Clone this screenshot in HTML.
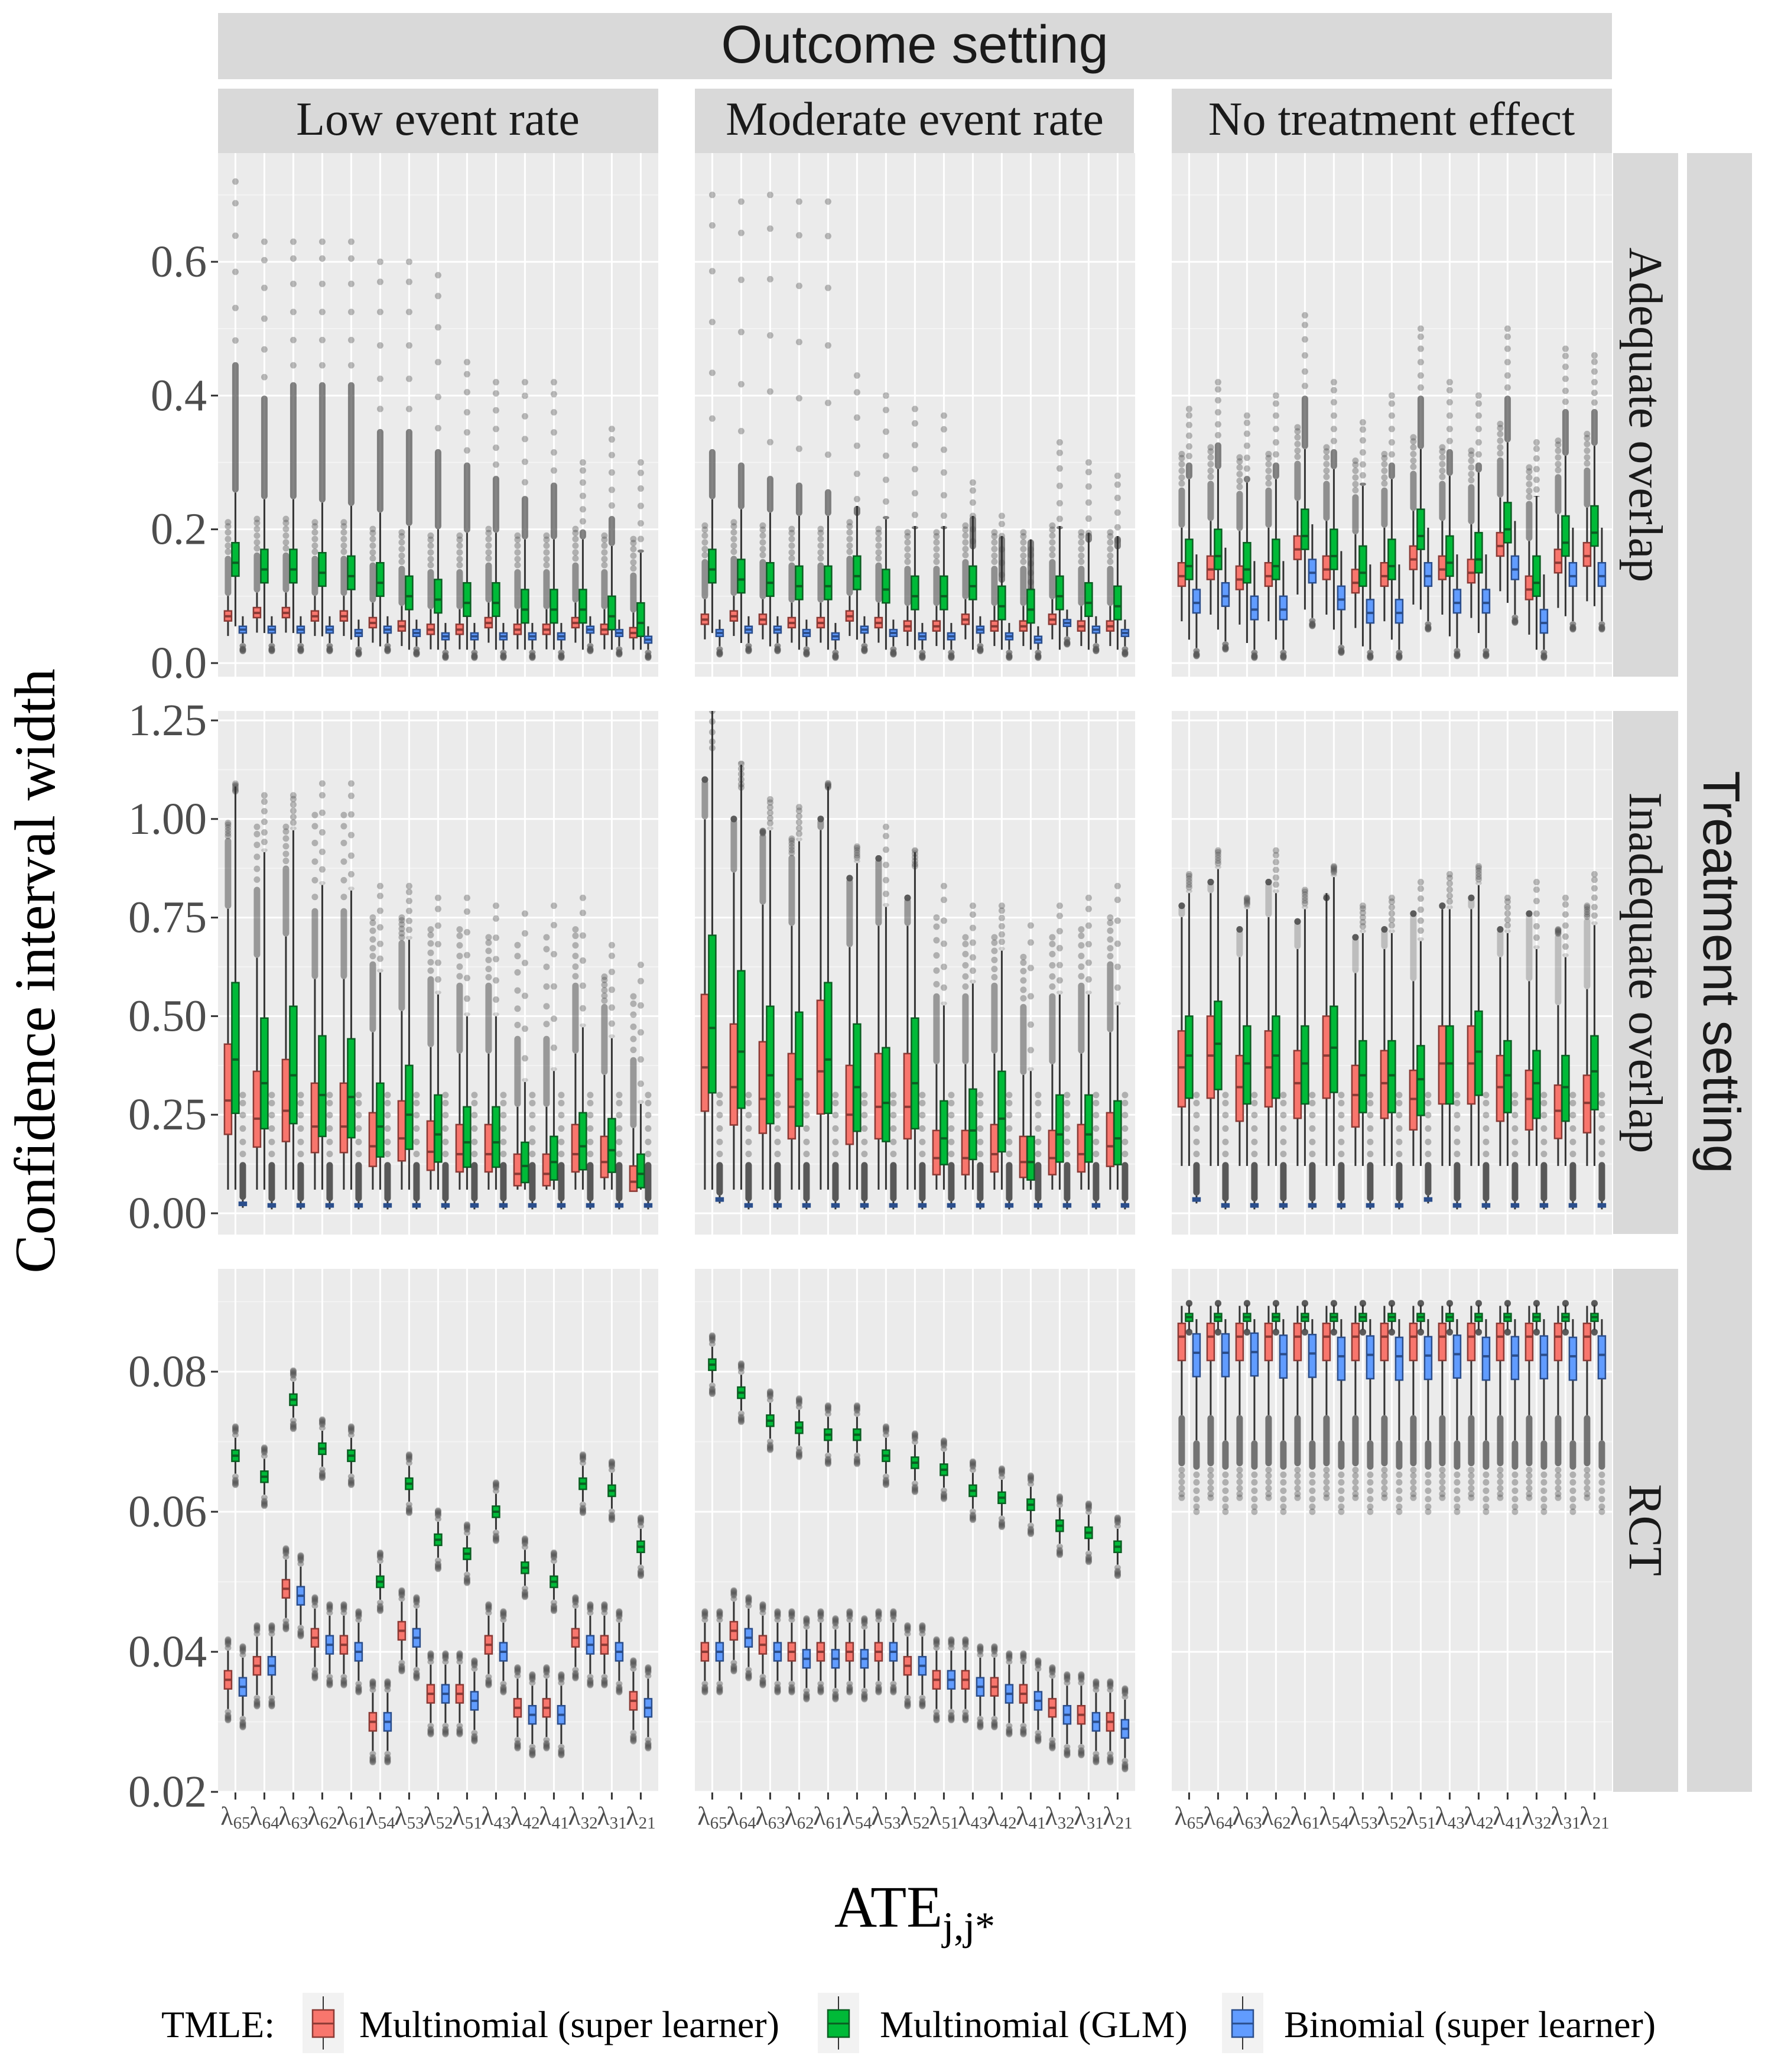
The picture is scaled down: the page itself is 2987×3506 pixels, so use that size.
<!DOCTYPE html>
<html><head><meta charset="utf-8">
<style>
html,body{margin:0;padding:0;background:#fff;}
svg{display:block;}
text{font-family:"Liberation Serif",serif;}
</style></head>
<body>
<svg id="chart" xmlns="http://www.w3.org/2000/svg" width="2987" height="3506" viewBox="0 0 2987 3506">
<rect width="2987" height="3506" fill="#fff"/>
<g id="panels"></g>
<g id="strips">
 <rect x="369" y="22" width="2359" height="112" fill="#D9D9D9"/>
 <text x="1548" y="106" font-size="90" text-anchor="middle" fill="#1A1A1A" style="font-family:'Liberation Sans',sans-serif">Outcome setting</text>
 <rect x="369" y="150" width="745" height="109" fill="#D9D9D9"/>
 <text x="741" y="228" font-size="80" text-anchor="middle" fill="#1A1A1A">Low event rate</text>
 <rect x="1176" y="150" width="743" height="109" fill="#D9D9D9"/>
 <text x="1548" y="228" font-size="80" text-anchor="middle" fill="#1A1A1A">Moderate event rate</text>
 <rect x="1983" y="150" width="745" height="109" fill="#D9D9D9"/>
 <text x="2355" y="228" font-size="80" text-anchor="middle" fill="#1A1A1A">No treatment effect</text>
 <rect x="2730" y="259" width="110" height="886" fill="#D9D9D9"/>
 <text transform="translate(2758,702) rotate(90)" font-size="80" text-anchor="middle" fill="#1A1A1A">Adequate overlap</text>
 <rect x="2730" y="1203" width="110" height="885" fill="#D9D9D9"/>
 <text transform="translate(2758,1646) rotate(90)" font-size="80" text-anchor="middle" fill="#1A1A1A">Inadequate overlap</text>
 <rect x="2730" y="2147" width="110" height="885" fill="#D9D9D9"/>
 <text transform="translate(2758,2589) rotate(90)" font-size="80" text-anchor="middle" fill="#1A1A1A">RCT</text>
 <rect x="2855" y="259" width="110" height="2773" fill="#D9D9D9"/>
 <text transform="translate(2883,1645) rotate(90)" font-size="88" text-anchor="middle" fill="#1A1A1A" style="font-family:'Liberation Sans',sans-serif">Treatment setting</text>
</g>
<text transform="translate(92,1643) rotate(-90)" font-size="98" text-anchor="middle" fill="#000">Confidence interval width</text>
<text x="1548" y="3260" font-size="100" text-anchor="middle" fill="#000">ATE<tspan font-size="68" dy="22">j,j*</tspan></text>
<g id="legend">
 <text x="273" y="3447" font-size="64" fill="#000">TMLE:</text>
</g>
</svg>
<script>
const cats = ['65','64','63','62','61','54','53','52','51','43','42','41','32','31','21'];
const seriesNames = ['Multinomial (super learner)','Multinomial (GLM)','Binomial (super learner)'];
// Row 1: Adequate overlap
const r1c1_red = [0.07,0.075,0.075,0.07,0.07,0.06,0.055,0.05,0.05,0.06,0.05,0.05,0.06,0.05,0.045];
const r1c1_green = [0.15,0.14,0.14,0.135,0.13,0.12,0.10,0.095,0.09,0.09,0.08,0.08,0.08,0.07,0.06];
const r1c1_blue = [0.05,0.05,0.05,0.05,0.045,0.05,0.045,0.04,0.04,0.04,0.04,0.04,0.05,0.045,0.035];
const r1c1_outDense = [0.45,0.40,0.42,0.42,0.42,0.35,0.35,0.32,0.30,0.28,0.25,0.27,0.20,0.22,0.17];
const r1c1_outMax = [0.72,0.63,0.63,0.63,0.63,0.60,0.60,0.58,0.45,0.42,0.42,0.42,0.30,0.35,0.30];
const r1c2_red = [0.065,0.07,0.065,0.06,0.06,0.07,0.06,0.055,0.055,0.065,0.055,0.055,0.065,0.055,0.055];
const r1c2_green = [0.14,0.125,0.12,0.115,0.115,0.13,0.11,0.10,0.10,0.115,0.085,0.08,0.10,0.09,0.085];
const r1c2_blue = [0.045,0.05,0.05,0.045,0.04,0.05,0.045,0.04,0.04,0.05,0.04,0.035,0.06,0.05,0.045];
const r1c2_outDense = [0.32,0.30,0.28,0.27,0.26,0.22,0.22,0.20,0.20,0.17,0.12,0.10,0.20,0.18,0.17];
const r1c2_outMax = [0.70,0.69,0.70,0.69,0.69,0.43,0.40,0.38,0.37,0.27,0.22,0.17,0.33,0.30,0.28];
const r1c3_red = [0.13,0.14,0.125,0.13,0.17,0.14,0.12,0.13,0.155,0.14,0.135,0.175,0.11,0.15,0.16];
const r1c3_green = [0.145,0.16,0.14,0.145,0.19,0.16,0.135,0.145,0.19,0.15,0.155,0.20,0.12,0.18,0.195];
const r1c3_blue = [0.09,0.10,0.08,0.08,0.135,0.095,0.075,0.075,0.13,0.09,0.09,0.14,0.06,0.13,0.13];
const r1c3_outDense = [0.30,0.33,0.28,0.30,0.40,0.32,0.27,0.30,0.40,0.32,0.30,0.40,0.25,0.38,0.38];
const r1c3_outMax = [0.38,0.42,0.37,0.40,0.52,0.42,0.36,0.40,0.50,0.42,0.40,0.50,0.33,0.47,0.46];
// Row 2: Inadequate overlap
const r2c1_red = [0.286,0.24,0.26,0.22,0.22,0.17,0.19,0.156,0.15,0.15,0.10,0.10,0.15,0.13,0.08];
const r2c1_green = [0.39,0.33,0.35,0.30,0.295,0.22,0.25,0.20,0.18,0.18,0.12,0.13,0.17,0.16,0.10];
const r2c1_blue = [0.024,0.02,0.02,0.02,0.02,0.02,0.02,0.02,0.02,0.02,0.02,0.02,0.02,0.02,0.02];
const r2c1_outMax = [0.99,0.98,0.98,1.01,1.01,0.75,0.75,0.72,0.72,0.70,0.68,0.70,0.72,0.60,0.55];
const r2c2_red = [0.37,0.32,0.29,0.27,0.36,0.25,0.27,0.27,0.14,0.14,0.15,0.13,0.14,0.15,0.17];
const r2c2_green = [0.47,0.41,0.35,0.34,0.39,0.32,0.28,0.33,0.19,0.21,0.24,0.13,0.20,0.20,0.19];
const r2c2_blue = [0.035,0.02,0.02,0.02,0.02,0.02,0.02,0.02,0.02,0.02,0.02,0.02,0.02,0.02,0.02];
const r2c2_outMax = [1.10,1.00,0.97,0.95,1.00,0.85,0.90,0.80,0.75,0.70,0.70,0.65,0.70,0.72,0.75];
const r2c3_red = [0.37,0.40,0.32,0.37,0.33,0.40,0.30,0.33,0.29,0.38,0.38,0.32,0.29,0.26,0.28];
const r2c3_green = [0.40,0.43,0.38,0.40,0.38,0.42,0.35,0.35,0.34,0.38,0.41,0.35,0.33,0.32,0.36];
const r2c3_blue = [0.035,0.02,0.02,0.02,0.02,0.02,0.02,0.02,0.035,0.02,0.02,0.02,0.02,0.02,0.02];
const r2c3_outMax = [0.78,0.84,0.72,0.84,0.74,0.80,0.70,0.72,0.76,0.78,0.80,0.72,0.76,0.72,0.78];
// Row 3: RCT
const r3c1_red = [0.036,0.038,0.049,0.042,0.041,0.030,0.043,0.034,0.034,0.041,0.032,0.032,0.042,0.041,0.033];
const r3c1_green = [0.068,0.065,0.076,0.069,0.068,0.050,0.064,0.056,0.054,0.060,0.052,0.050,0.064,0.063,0.055];
const r3c1_blue = [0.035,0.038,0.048,0.041,0.040,0.030,0.042,0.034,0.033,0.040,0.031,0.031,0.041,0.040,0.032];
const r3c2_red = [0.040,0.043,0.041,0.040,0.040,0.040,0.040,0.038,0.036,0.036,0.035,0.034,0.032,0.031,0.030];
const r3c2_green = [0.081,0.077,0.073,0.072,0.071,0.071,0.068,0.067,0.066,0.063,0.062,0.061,0.058,0.057,0.055];
const r3c2_blue = [0.040,0.042,0.040,0.039,0.039,0.039,0.040,0.038,0.036,0.035,0.034,0.033,0.031,0.030,0.029];
const r3c3_red = [0.085,0.085,0.085,0.085,0.085,0.085,0.085,0.085,0.085,0.085,0.085,0.085,0.085,0.085,0.085];
const r3c3_green = [0.0878,0.0878,0.0878,0.0878,0.0878,0.0878,0.0878,0.0878,0.0878,0.0878,0.0878,0.0878,0.0878,0.0878,0.0878];
const r3c3_blue = [0.0827,0.0827,0.0828,0.0825,0.0826,0.0822,0.0824,0.0822,0.0823,0.0825,0.0822,0.0823,0.0824,0.0822,0.0824];
const r1Ticks = [0.0,0.2,0.4,0.6];
const r1TickLabels = ['0.0','0.2','0.4','0.6'];
const r2Ticks = [0,0.25,0.5,0.75,1.0,1.25];
const r2TickLabels = ['0.00','0.25','0.50','0.75','1.00','1.25'];
const r3Ticks = [0.02,0.04,0.06,0.08];
const r3TickLabels = ['0.02','0.04','0.06','0.08'];

const NS='http://www.w3.org/2000/svg';
function mk(tag, attrs, parent){const e=document.createElementNS(NS,tag);for(const k in attrs)e.setAttribute(k,attrs[k]);parent.appendChild(e);return e;}
const colX0=[369,1176,1983], PW=745;
const rowTop=[259,1203,2147], PH=886;
const rowScale=[
  v=>1122 - v*1131.7,
  v=>2053 - v*667.2,
  v=>3032 - (v-0.02)*11850
];
const rowRange=[[-0.02,0.763],[-0.05,1.28],[0.02,0.0948]];
function xCat(col,i){return colX0[col] + 0.6*49 + i*49;}
const FILL=['#F8766D','#00BA38','#619CFF'];
const DARK=['#8B3A35','#0B5E22','#2B4E8C'];
const OFF=[-12.5,0,12.5], BW=12;
const panelsG=document.getElementById('panels');

function boxStats(row,col,s,m){
  let q1,q3,lo,hi;
  if(row===0){
    if(col<2){const d=[[0.007,0.008],[0.02,0.03],[0.005,0.005]][s];q1=m-d[0];q3=m+d[1];}
    else{const d=[[0.015,0.02],[0.02,0.04],[0.015,0.02]][s];q1=m-d[0];q3=m+d[1];}
    const iqr=q3-q1;lo=Math.max(q1-1.5*iqr,0.02);hi=q3+1.5*iqr;
  } else if(row===1){
    if(s===2){q1=m-0.004;q3=m+0.004;lo=m-0.01;hi=m+0.01;}
    else{
      const f=col<2?(s===0?[0.3,0.5]:[0.35,0.5]):[0.27,0.25];
      q1=m*(1-f[0]);q3=m*(1+f[1]);const iqr=q3-q1;lo=Math.max(q1-1.5*iqr,col<2?0.06:0.12);hi=q3+1.5*iqr;
    }
  } else {
    if(col<2){const d=[0.0013,0.0008,0.0013][s];q1=m-d;q3=m+d;lo=q1-2.2*d;hi=q3+2.2*d;}
    else{const d=[[0.0034,0.0019],[0.0006,0.0005],[0.0034,0.0027]][s];q1=m-d[0];q3=m+d[1];
      lo=[0.0738,0.086,0.0702][s];hi=[0.0894,0.0895,0.0875][s];}
  }
  return {q1,q3,lo,hi};
}
const dotFr=[0.12,0.3,0.5,0.7,0.88,1.0];
function outColumn(g,x,y,yD,yM,dens){
  const top=Math.min(y,yD), h=Math.abs(yD-y);
  const r=mk('rect',{x:x-5.5,y:top,width:11,height:Math.max(h,2),rx:5.5,fill:'#333',opacity:dens},g);
  
  
  dotFr.forEach(f=>{
    const c=mk('circle',{cx:x,cy:yD+(yM-yD)*f,r:5.5,fill:'#555',opacity:0.4},g);
    
    
  });
}
const ticksByRow=[[r1Ticks,r1TickLabels],[r2Ticks,r2TickLabels],[r3Ticks,r3TickLabels]];
const dataByPanel=[
  [[r1c1_red,r1c1_green,r1c1_blue],[r1c2_red,r1c2_green,r1c2_blue],[r1c3_red,r1c3_green,r1c3_blue]],
  [[r2c1_red,r2c1_green,r2c1_blue],[r2c2_red,r2c2_green,r2c2_blue],[r2c3_red,r2c3_green,r2c3_blue]],
  [[r3c1_red,r3c1_green,r3c1_blue],[r3c2_red,r3c2_green,r3c2_blue],[r3c3_red,r3c3_green,r3c3_blue]]
];
const r1Out=[[r1c1_outDense,r1c1_outMax],[r1c2_outDense,r1c2_outMax],[r1c3_outDense,r1c3_outMax]];
const r2Out=[r2c1_outMax,r2c2_outMax,r2c3_outMax];
const rowNames=['adequate-overlap','inadequate-overlap','rct'];
const colNames=['low-event-rate','moderate-event-rate','no-treatment-effect'];

for(let row=0;row<3;row++){
  const Y=rowScale[row], [tk,tl]=ticksByRow[row];
  for(let col=0;col<3;col++){
    const g=mk('g',{},panelsG);
    
    
    const clipId='c'+row+col;
    const cp=mk('clipPath',{id:clipId},g);mk('rect',{x:colX0[col],y:rowTop[row],width:PW,height:PH},cp);
    const bg=mk('rect',{x:colX0[col],y:rowTop[row],width:PW,height:PH,fill:'#EBEBEB'},g);
    
    
    for(let k=0;k<tk.length;k++){
      const step=tk[1]-tk[0];
      [tk[k]-step/2, tk[k]+step/2].forEach(v=>{
        if(v<rowRange[row][0]||v>rowRange[row][1])return;
        mk('line',{x1:colX0[col],x2:colX0[col]+PW,y1:Y(v),y2:Y(v),stroke:'#F5F5F5','stroke-width':1.6},g);
      });
    }
    tk.forEach(v=>{
      const l=mk('line',{x1:colX0[col],x2:colX0[col]+PW,y1:Y(v),y2:Y(v),stroke:'#fff','stroke-width':3},g);
      
      
    });
    cats.forEach((c,i)=>{
      const l=mk('line',{x1:xCat(col,i),x2:xCat(col,i),y1:rowTop[row],y2:rowTop[row]+PH,stroke:'#fff','stroke-width':3},g);
      
      
    });
    const mg=mk('g',{'clip-path':'url(#'+clipId+')'},g);
    const data=dataByPanel[row][col];
    cats.forEach((c,i)=>{
      for(let s=0;s<3;s++){
        const m=data[s][i], st=boxStats(row,col,s,m), x=xCat(col,i)+OFF[s];
        if(row===0){
          if(s===1) outColumn(mg,x,Y(st.hi),Y(r1Out[col][0][i]),Y(r1Out[col][1][i]),0.6);
          if(s===0) outColumn(mg,x,Y(st.hi),Y(st.hi+0.06),Y(st.hi+0.11),0.5);
          if(s===2) outColumn(mg,x,Y(st.lo),Y(st.lo-0.008),Y(st.lo-0.012),0.5);
        } else if(row===1){
          if(s===0) outColumn(mg,x,Y(st.hi),Y(Math.min(r2Out[col][i],st.hi+0.18)),Y(r2Out[col][i]),col<2?0.45:0.25);
          if(s===1) outColumn(mg,x,Y(st.hi),Y(st.hi+0.01),Y(r2Out[col][i]+0.08),0.2);
          if(s===2) outColumn(mg,x,Y(st.hi),Y(0.13),Y(0.3),0.8);
        } else {
          if(col<2){
            outColumn(mg,x,Y(st.hi),Y(st.hi+0.0008),Y(st.hi+0.0016),0.35);
            outColumn(mg,x,Y(st.lo),Y(st.lo-0.0008),Y(st.lo-0.0016),0.35);
          } else {
            if(s===0) outColumn(mg,x,Y(st.lo),Y(0.0665),Y(0.062),0.65);
            if(s===2) outColumn(mg,x,Y(st.lo),Y(0.066),Y(0.060),0.65);
            if(s===1){outColumn(mg,x,Y(st.hi),Y(st.hi+0.0002),Y(st.hi+0.0003),0.5);outColumn(mg,x,Y(st.lo),Y(st.lo-0.0003),Y(st.lo-0.0004),0.5);}
          }
        }
      }
    });
    cats.forEach((c,i)=>{
      for(let s=0;s<3;s++){
        const m=data[s][i], st=boxStats(row,col,s,m), x=xCat(col,i)+OFF[s];
        const bg2=mk('g',{},mg);
        
        
        mk('line',{x1:x,x2:x,y1:Y(st.hi),y2:Y(st.lo),stroke:'#333','stroke-width':3},bg2);
        const yt=Y(st.q3), yb=Y(st.q1);
        mk('rect',{x:x-BW/2,y:yt,width:BW,height:Math.max(yb-yt,3),fill:FILL[s],stroke:DARK[s],'stroke-width':2.5},bg2);
        mk('line',{x1:x-BW/2,x2:x+BW/2,y1:Y(m),y2:Y(m),stroke:DARK[s],'stroke-width':4},bg2);
      }
    });
    if(row===2){
      cats.forEach((c,i)=>{
        const x=xCat(col,i);
        mk('line',{x1:x,x2:x,y1:3033,y2:3045,stroke:'#333','stroke-width':3},panelsG);
        const t=mk('text',{x:x,y:3088,'font-size':44,'text-anchor':'middle',fill:'#4D4D4D'},panelsG);
        
        
        t.textContent='λ';
        const sb=mk('tspan',{'font-size':29,dy:6},t);sb.textContent=c;
      });
    }
  }
  tk.forEach((v,k)=>{
    mk('line',{x1:357,x2:369,y1:Y(v),y2:Y(v),stroke:'#333','stroke-width':3},panelsG);
    const t=mk('text',{x:350,y:Y(v)+25,'font-size':76,'text-anchor':'end',fill:'#4D4D4D'},panelsG);
    
    
    t.textContent=tl[k];
  });
}
const leg=document.getElementById('legend');
const keyX=[512,1384,2068], txtX=[608,1489,2173];
seriesNames.forEach((n,s)=>{
  const kg=mk('g',{},leg);
  
  
  mk('rect',{x:keyX[s],y:3372,width:70,height:102,fill:'#F2F2F2'},kg);
  mk('line',{x1:keyX[s]+35,x2:keyX[s]+35,y1:3378,y2:3468,stroke:'#333','stroke-width':2},kg);
  mk('rect',{x:keyX[s]+17,y:3401,width:36,height:46,fill:FILL[s],stroke:DARK[s],'stroke-width':2.5},kg);
  mk('line',{x1:keyX[s]+17,x2:keyX[s]+53,y1:3424,y2:3424,stroke:DARK[s],'stroke-width':3},kg);
  const t=mk('text',{x:txtX[s],y:3447,'font-size':64,fill:'#000'},kg);
  t.textContent=n;
});
</script>
</body></html>
